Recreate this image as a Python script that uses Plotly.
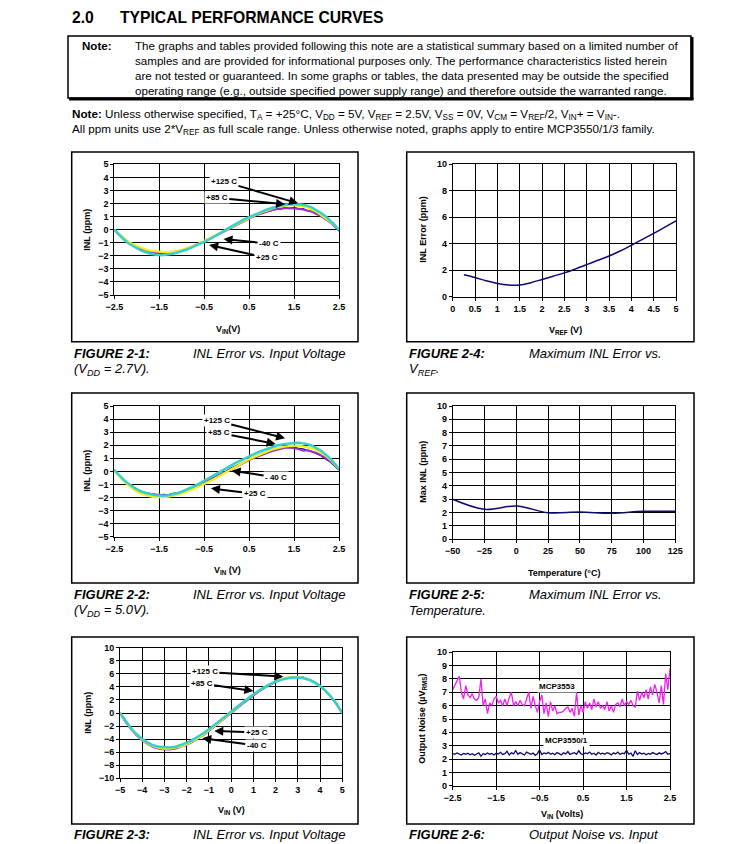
import plotly.graph_objects as go

W, H = 751, 844
def px(x): return x / W
def py(y): return 1 - y / H

FONTW = "Liberation Sans, Arial, sans-serif"

# ---------------- data ----------------
vin_fine = [round(-2.5 + 0.1 * i, 2) for i in range(51)]
vin_wide = [round(-5 + 0.25 * i, 2) for i in range(41)]
vin_noise = [round(-2.5 + 0.05 * i, 2) for i in range(101)]

# Figure 2-1 (VDD = 2.7V)
f1_cyan = [0.02, -0.38, -0.72, -1.00, -1.24, -1.42, -1.60, -1.74, -1.84, -1.90,
           -1.95, -1.93, -1.90, -1.84, -1.76, -1.66, -1.54, -1.40, -1.26, -1.10,
           -0.94, -0.76, -0.58, -0.38, -0.18, 0.04, 0.24, 0.42, 0.62, 0.80,
           0.96, 1.12, 1.27, 1.42, 1.55, 1.66, 1.76, 1.84, 1.90, 1.94,
           1.96, 1.95, 1.90, 1.82, 1.68, 1.50, 1.28, 1.02, 0.72, 0.38, -0.05]
f1_yellow = [0.00, -0.30, -0.62, -0.90, -1.10, -1.26, -1.42, -1.52, -1.60, -1.65,
             -1.70, -1.72, -1.72, -1.70, -1.64, -1.56, -1.46, -1.34, -1.20, -1.04,
             -0.86, -0.70, -0.52, -0.34, -0.16, 0.02, 0.20, 0.38, 0.56, 0.74,
             0.90, 1.06, 1.22, 1.36, 1.50, 1.62, 1.72, 1.80, 1.85, 1.88,
             1.88, 1.85, 1.78, 1.68, 1.54, 1.36, 1.14, 0.90, 0.62, 0.32, 0.00]
f1_purple = [0.00, -0.34, -0.66, -0.94, -1.18, -1.36, -1.52, -1.62, -1.70, -1.74,
             -1.76, -1.77, -1.75, -1.72, -1.66, -1.58, -1.48, -1.35, -1.22, -1.07,
             -0.91, -0.74, -0.56, -0.38, -0.20, -0.01, 0.17, 0.35, 0.53, 0.70,
             0.86, 1.01, 1.15, 1.28, 1.40, 1.49, 1.56, 1.61, 1.63, 1.64,
             1.63, 1.60, 1.54, 1.46, 1.36, 1.22, 1.04, 0.82, 0.56, 0.28, -0.05]
f1_navy = [0.00, -0.38, -0.64, -0.98, -1.14, -1.40, -1.50, -1.68, -1.70, -1.80,
           -1.76, -1.84, -1.74, -1.76, -1.64, -1.62, -1.44, -1.38, -1.18, -1.10,
           -0.88, -0.76, -0.52, -0.40, -0.16, -0.02, 0.20, 0.34, 0.58, 0.70,
           0.90, 1.00, 1.20, 1.26, 1.44, 1.46, 1.60, 1.58, 1.68, 1.62,
           1.70, 1.58, 1.60, 1.44, 1.40, 1.18, 1.08, 0.78, 0.62, 0.26, -0.10]

# Figure 2-2 (VDD = 5.0V)
f2_cyan = [0.10, -0.28, -0.62, -0.92, -1.16, -1.38, -1.54, -1.66, -1.76, -1.82,
           -1.85, -1.86, -1.82, -1.76, -1.68, -1.56, -1.42, -1.28, -1.10, -0.92,
           -0.74, -0.54, -0.34, -0.14, 0.06, 0.28, 0.46, 0.64, 0.82, 0.98,
           1.14, 1.30, 1.46, 1.60, 1.74, 1.86, 1.96, 2.04, 2.10, 2.14,
           2.16, 2.18, 2.14, 2.08, 1.96, 1.80, 1.58, 1.30, 1.00, 0.62, 0.20]
f2_yellow = [0.05, -0.36, -0.72, -1.04, -1.32, -1.54, -1.72, -1.84, -1.92, -1.98,
             -2.00, -1.98, -1.94, -1.88, -1.80, -1.70, -1.58, -1.44, -1.30, -1.14,
             -0.98, -0.80, -0.62, -0.42, -0.22, -0.02, 0.18, 0.38, 0.56, 0.74,
             0.92, 1.08, 1.24, 1.40, 1.54, 1.66, 1.76, 1.84, 1.90, 1.94,
             1.96, 1.95, 1.92, 1.86, 1.76, 1.62, 1.44, 1.20, 0.92, 0.58, 0.18]
f2_purple = [0.08, -0.30, -0.66, -0.96, -1.22, -1.42, -1.56, -1.68, -1.72, -1.80,
             -1.78, -1.84, -1.80, -1.74, -1.70, -1.60, -1.50, -1.36, -1.22, -1.06,
             -0.90, -0.72, -0.54, -0.36, -0.16, 0.02, 0.20, 0.38, 0.56, 0.72,
             0.86, 1.02, 1.16, 1.30, 1.42, 1.54, 1.64, 1.72, 1.80, 1.82,
             1.78, 1.70, 1.58, 1.62, 1.50, 1.40, 1.24, 1.04, 0.80, 0.50, 0.15]
f2_navy = [0.12, -0.30, -0.60, -0.94, -1.18, -1.36, -1.54, -1.64, -1.74, -1.76,
           -1.82, -1.78, -1.80, -1.70, -1.68, -1.56, -1.46, -1.36, -1.18, -1.04,
           -0.86, -0.70, -0.50, -0.34, -0.12, 0.04, 0.24, 0.40, 0.60, 0.74,
           0.92, 1.04, 1.22, 1.32, 1.48, 1.56, 1.70, 1.74, 1.84, 1.82,
           1.86, 1.74, 1.72, 1.60, 1.52, 1.36, 1.20, 0.96, 0.74, 0.44, 0.10]

# Figure 2-3 (+/-5V input)
f3_cyan = [0.02, -1.26, -2.36, -3.26, -3.98, -4.54, -4.94, -5.18, -5.28, -5.28,
           -5.16, -4.92, -4.58, -4.16, -3.66, -3.10, -2.50, -1.86, -1.18, -0.48,
           0.22, 0.90, 1.58, 2.24, 2.86, 3.44, 3.96, 4.42, 4.80, 5.10,
           5.30, 5.42, 5.44, 5.32, 5.08, 4.68, 4.12, 3.38, 2.46, 1.34, 0.00]
f3_yellow = [0.00, -1.32, -2.44, -3.38, -4.12, -4.68, -5.08, -5.34, -5.46, -5.46,
             -5.34, -5.12, -4.80, -4.38, -3.88, -3.32, -2.70, -2.02, -1.32, -0.60,
             0.12, 0.82, 1.52, 2.20, 2.84, 3.44, 3.98, 4.46, 4.86, 5.18,
             5.40, 5.52, 5.52, 5.40, 5.12, 4.70, 4.12, 3.38, 2.46, 1.34, 0.00]
f3_purple = [0.00, -1.36, -2.50, -3.44, -4.20, -4.78, -5.20, -5.46, -5.58, -5.58,
             -5.44, -5.20, -4.86, -4.44, -3.94, -3.38, -2.76, -2.10, -1.42, -0.72,
             -0.02, 0.68, 1.38, 2.06, 2.70, 3.32, 3.86, 4.36, 4.78, 5.12,
             5.36, 5.48, 5.50, 5.40, 5.14, 4.72, 4.14, 3.40, 2.48, 1.36, 0.00]
f3_navy = [0.00, -1.34, -2.46, -3.40, -4.14, -4.72, -5.14, -5.40, -5.52, -5.52,
           -5.40, -5.16, -4.84, -4.42, -3.92, -3.36, -2.74, -2.08, -1.40, -0.70,
           0.00, 0.70, 1.40, 2.08, 2.72, 3.32, 3.88, 4.36, 4.78, 5.12,
           5.36, 5.50, 5.52, 5.42, 5.14, 4.72, 4.14, 3.38, 2.44, 1.30, -0.04]

# Figure 2-4: max INL vs VREF
vref = [0.25, 0.5, 0.75, 1.0, 1.25, 1.5, 1.75, 2.0, 2.25, 2.5,
        2.75, 3.0, 3.25, 3.5, 3.75, 4.0, 4.25, 4.5, 4.75, 5.0]
inl_vref = [1.66, 1.45, 1.20, 1.00, 0.88, 0.88, 1.06, 1.30, 1.55, 1.80,
            2.10, 2.42, 2.75, 3.07, 3.45, 3.88, 4.33, 4.78, 5.25, 5.72]

# Figure 2-5: max INL vs temperature
temp = [-50, -25, 0, 25, 50, 75, 100, 125]
inl_temp = [3.0, 2.25, 2.5, 2.0, 2.05, 1.95, 2.1, 2.1]

# Figure 2-6: output noise vs input
noise_3553 = [7.20, 7.50, 7.80, 8.20, 7.00, 6.50, 7.50, 6.80, 6.60, 6.90,
              6.50, 6.40, 6.60, 8.00, 6.00, 6.50, 5.40, 6.20, 6.00, 6.50,
              6.70, 6.20, 6.40, 6.00, 6.50, 6.00, 6.60, 7.00, 6.00, 6.30,
              6.00, 6.40, 6.10, 6.00, 6.50, 7.00, 5.80, 6.70, 6.00, 5.50,
              6.30, 6.80, 5.40, 6.20, 5.20, 6.30, 5.60, 6.00, 5.40, 5.50,
              5.50, 5.60, 5.80, 5.90, 5.50, 5.80, 5.20, 7.00, 5.30, 6.00,
              5.50, 6.30, 5.80, 6.20, 5.70, 6.50, 5.90, 6.30, 5.80, 6.00,
              5.70, 6.30, 5.60, 6.00, 5.50, 6.10, 6.20, 5.90, 6.50, 6.00,
              6.30, 6.10, 6.40, 6.00, 5.90, 7.10, 6.40, 7.00, 6.60, 7.20,
              6.50, 7.40, 6.80, 7.60, 7.00, 6.20, 7.50, 6.10, 8.40, 7.20, 8.80]
noise_3550 = [2.40, 2.35, 2.45, 2.38, 2.30, 2.42, 2.36, 2.44, 2.32, 2.40,
              2.28, 2.38, 2.46, 2.22, 2.40, 2.34, 2.45, 2.36, 2.42, 2.30,
              2.44, 2.38, 2.50, 2.34, 2.40, 2.58, 2.30, 2.46, 2.38, 2.62,
              2.36, 2.48, 2.40, 2.30, 2.52, 2.42, 2.36, 2.44, 2.28, 2.40,
              2.68, 2.34, 2.46, 2.40, 2.50, 2.36, 2.44, 2.32, 2.48, 2.40,
              2.30, 2.46, 2.38, 2.56, 2.34, 2.42, 2.48, 2.36, 2.62, 2.40,
              2.32, 2.46, 2.40, 2.52, 2.36, 2.44, 2.30, 2.50, 2.38, 2.44,
              2.36, 2.48, 2.42, 2.30, 2.46, 2.38, 2.52, 2.34, 2.44, 2.40,
              2.66, 2.36, 2.44, 2.20, 2.62, 2.34, 2.48, 2.38, 2.44, 2.32,
              2.42, 2.36, 2.48, 2.40, 2.34, 2.46, 2.38, 2.44, 2.56, 2.36, 2.40]

# tick labels
vin_ticks = [-2.5, -1.5, -0.5, 0.5, 1.5, 2.5]
inl5_ticks = list(range(-5, 6))
vin10_ticks = list(range(-5, 6))
inl10_ticks = list(range(-10, 11, 2))
vref_ticks = [0, 0.5, 1, 1.5, 2, 2.5, 3, 3.5, 4, 4.5, 5]
vref_text = ["0", "0.5", "1", "1.5", "2", "2.5", "3", "3.5", "4", "4.5", "5"]
even10_ticks = list(range(0, 11, 2))
one10_ticks = list(range(0, 11))
temp_ticks = [-50, -25, 0, 25, 50, 75, 100, 125]

C_NAVY = "#0b0b70"
C_PURPLE = "#9b30d0"
C_YELLOW = "#f2f20a"
C_CYAN = "#33d0d0"
C_MAG = "#f020f0"

fig = go.Figure()

def add_family(xs, series, xa, ya):
    cols = [C_NAVY, C_PURPLE, C_YELLOW, C_CYAN]
    widths = [1.5, 2, 2.2, 2.5]
    for s, c, w in zip(series, cols, widths):
        fig.add_trace(go.Scatter(x=xs, y=s, mode="lines", line=dict(color=c, width=w),
                                 xaxis=xa, yaxis=ya, showlegend=False, hoverinfo="skip"))

add_family(vin_fine, [f1_navy, f1_purple, f1_yellow, f1_cyan], "x", "y")
add_family(vin_fine, [f2_navy, f2_purple, f2_yellow, f2_cyan], "x2", "y2")
add_family(vin_wide, [f3_navy, f3_purple, f3_yellow, f3_cyan], "x3", "y3")
fig.add_trace(go.Scatter(x=vref, y=inl_vref, mode="lines", line=dict(color=C_NAVY, width=1.5, shape="spline"),
                         xaxis="x4", yaxis="y4", showlegend=False))
fig.add_trace(go.Scatter(x=temp, y=inl_temp, mode="lines", line=dict(color=C_NAVY, width=1.5, shape="spline"),
                         xaxis="x5", yaxis="y5", showlegend=False))
fig.add_trace(go.Scatter(x=vin_noise, y=noise_3553, mode="lines", line=dict(color=C_MAG, width=1.3),
                         xaxis="x6", yaxis="y6", showlegend=False))
fig.add_trace(go.Scatter(x=vin_noise, y=noise_3550, mode="lines", line=dict(color=C_NAVY, width=1.3),
                         xaxis="x6", yaxis="y6", showlegend=False))

def axis(d0, d1, rng, tickvals, anchor, ticktext=None):
    d = dict(domain=[d0, d1], range=rng, tickmode="array", tickvals=tickvals,
             showgrid=True, gridcolor="black", gridwidth=1, zeroline=False,
             showline=True, mirror=True, linecolor="black", linewidth=1,
             ticks="outside", ticklen=3, tickcolor="black",
             tickfont=dict(family=FONTW, size=9, color="black", weight="bold"),
             anchor=anchor, fixedrange=True, automargin=False)
    if ticktext is not None:
        d["ticktext"] = ticktext
    return d

# plot areas in page pixels: (left, right, top, bottom)
dom = {
    1: (114.3, 339, 164.3, 295),
    2: (114.3, 339, 406, 536.7),
    3: (120, 342.3, 647.7, 778.3),
    4: (452.7, 676, 164.3, 296.7),
    5: (452.7, 675.3, 406, 539.3),
    6: (452.7, 670, 652.3, 785.7),
}
xr = {1: [-2.5, 2.5], 2: [-2.5, 2.5], 3: [-5, 5], 4: [0, 5], 5: [-50, 125], 6: [-2.5, 2.5]}
yr = {1: [-5, 5], 2: [-5, 5], 3: [-10, 10], 4: [0, 10], 5: [0, 10], 6: [0, 10]}
xt = {1: vin_ticks, 2: vin_ticks, 3: vin10_ticks, 4: vref_ticks, 5: temp_ticks, 6: vin_ticks}
yt = {1: inl5_ticks, 2: inl5_ticks, 3: inl10_ticks, 4: even10_ticks, 5: one10_ticks, 6: one10_ticks}

lay = {}
for i in range(1, 7):
    l, r, t, b = dom[i]
    sx = "" if i == 1 else str(i)
    lay["xaxis" + sx] = axis(px(l), px(r), xr[i], xt[i], "y" + sx, ticktext=vref_text if i == 4 else None)
    lay["yaxis" + sx] = axis(py(b), py(t), yr[i], yt[i], "x" + sx)
fig.update_layout(**lay)

ann = []
shapes = []

def text(x, y, s, size=12, bold=False, italic=False, anchor="left", angle=0, family=FONTW):
    f = dict(family=family, size=size, color="black")
    if bold:
        f["weight"] = "bold"
    if italic:
        f["style"] = "italic"
    ann.append(dict(xref="paper", yref="paper", x=px(x), y=py(y), text=s, showarrow=False,
                    xanchor=anchor, yanchor="middle", font=f, textangle=angle))

def line(x0, y0, x1, y1, w):
    shapes.append(dict(type="line", xref="paper", yref="paper", x0=px(x0), x1=px(x1), y0=py(y0), y1=py(y1),
                       line=dict(color="black", width=w)))

# Header
text(70, 17, "2.0", 15.7, bold=True)
text(118, 17, "TYPICAL PERFORMANCE CURVES", 15.7, bold=True)
# Note box
shapes.append(dict(type="rect", xref="paper", yref="paper", x0=px(68), x1=px(691), y0=py(98), y1=py(36),
                   line=dict(color="black", width=1.5)))
line(692, 37, 692, 99.5, 3)
line(69, 99, 693.5, 99, 3)
text(80, 45, "Note:", 11.6, bold=True)
note_lines = [
    "The graphs and tables provided following this note are a statistical summary based on a limited number of",
    "samples and are provided for informational purposes only. The performance characteristics listed herein",
    "are not tested or guaranteed. In some graphs or tables, the data presented may be outside the specified",
    "operating range (e.g., outside specified power supply range) and therefore outside the warranted range.",
]
for k, s in enumerate(note_lines):
    text(133, 45 + 15.2 * k, s, 11.6)
text(70, 115, "<b>Note:</b> Unless otherwise specified, T<sub>A</sub> = +25°C, V<sub>DD</sub> = 5V, V<sub>REF</sub> = 2.5V, "
     "V<sub>SS</sub> = 0V, V<sub>CM</sub> = V<sub>REF</sub>/2, V<sub>IN</sub>+ = V<sub>IN</sub>-.", 11.7)
text(70, 129, "All ppm units use 2*V<sub>REF</sub> as full scale range. Unless otherwise noted, graphs apply to entire MCP3550/1/3 family.",
     11.7)

# Panel boxes
boxes = [(71.7, 358, 152, 341.7), (406.7, 694, 152, 341.7),
         (71.7, 358, 393, 583), (406.7, 694, 393, 583),
         (71.7, 358, 637, 824), (406.7, 694, 637, 824)]
for l, r, t, b in boxes:
    shapes.append(dict(type="rect", xref="paper", yref="paper", x0=px(l), x1=px(r), y0=py(b), y1=py(t),
                       line=dict(color="black", width=1.5)))

# Axis titles
AT = 9
text(227.7, 329, "V<sub>IN</sub>(V)", AT, bold=True, anchor="center")
text(86.7, 230, "INL (ppm)", AT, bold=True, anchor="center", angle=-90)
text(565, 330, "V<sub>REF</sub> (V)", AT, bold=True, anchor="center")
text(422.7, 230, "INL Error (ppm)", AT, bold=True, anchor="center", angle=-90)
text(227.7, 570, "V<sub>IN</sub> (V)", AT, bold=True, anchor="center")
text(86.7, 471, "INL (ppm)", AT, bold=True, anchor="center", angle=-90)
text(564, 572.7, "Temperature (°C)", AT, bold=True, anchor="center")
text(422.7, 472, "Max INL (ppm)", AT, bold=True, anchor="center", angle=-90)
text(231, 810, "V<sub>IN</sub> (V)", AT, bold=True, anchor="center")
text(87.7, 713, "INL (ppm)", AT, bold=True, anchor="center", angle=-90)
text(561.7, 814.3, "V<sub>IN</sub> (Volts)", AT, bold=True, anchor="center")
text(421.7, 719, "Output Noise (µV<sub>RMS</sub>)", AT, bold=True, anchor="center", angle=-90)

# Captions
CS = 13
text(72, 353, "FIGURE 2-1:", CS, bold=True, italic=True)
text(191, 353, "INL Error vs. Input Voltage", CS, italic=True)
text(72, 369, "(V<sub>DD</sub> = 2.7V).", CS, italic=True)
text(407, 353, "FIGURE 2-4:", CS, bold=True, italic=True)
text(527, 353, "Maximum INL Error vs.", CS, italic=True)
text(407, 369, "V<sub>REF</sub>.", CS, italic=True)
text(72, 594, "FIGURE 2-2:", CS, bold=True, italic=True)
text(191, 594, "INL Error vs. Input Voltage", CS, italic=True)
text(72, 610, "(V<sub>DD</sub> = 5.0V).", CS, italic=True)
text(407, 594, "FIGURE 2-5:", CS, bold=True, italic=True)
text(527, 594, "Maximum INL Error vs.", CS, italic=True)
text(407, 610, "Temperature.", CS, italic=True)
text(72, 834, "FIGURE 2-3:", CS, bold=True, italic=True)
text(191, 834, "INL Error vs. Input Voltage", CS, italic=True)
text(407, 834, "FIGURE 2-6:", CS, bold=True, italic=True)
text(527, 834, "Output Noise vs. Input", CS, italic=True)

# In-plot labels with arrows (text position, arrow head position)
def arrow(sx, label, tx, ty, hx, hy):
    ann.append(dict(xref="x" + sx, yref="y" + sx, axref="x" + sx, ayref="y" + sx,
                    x=hx, y=hy, ax=tx, ay=ty, text=label, showarrow=True,
                    arrowhead=2, arrowsize=0.9, arrowwidth=2, arrowcolor="black",
                    bgcolor="white", borderpad=1,
                    font=dict(family=FONTW, size=8, color="black", weight="bold")))

arrow("", "+125 C", -0.06, 3.67, 1.59, 2.02)
arrow("", "+85 C", -0.22, 2.44, 1.30, 1.94)
arrow("", "-40 C", 0.94, -1.07, -0.07, -0.72)
arrow("", "+25 C", 0.89, -2.15, -0.39, -1.17)

arrow("2", "+125 C", -0.22, 3.87, 1.30, 2.53)
arrow("2", "+85 C", -0.17, 2.96, 1.09, 2.09)
arrow("2", "- 40 C", 1.10, -0.45, 0.11, 0.05)
arrow("2", "+25 C", 0.62, -1.73, -0.35, -1.30)

arrow("3", "+125 C", -1.18, 6.32, 2.35, 5.56)
arrow("3", "+85 C", -1.33, 4.55, 1.0, 3.37)
arrow("3", "+25 C", 1.15, -2.96, -0.76, -2.76)
arrow("3", "-40 C", 1.15, -5.0, -1.30, -3.87)

for lab, x, y in [("MCP3553", -0.11, 7.47), ("MCP3550/1", 0.12, 3.40)]:
    ann.append(dict(xref="x6", yref="y6", x=x, y=y, text=lab, showarrow=False, bgcolor="white",
                    font=dict(family=FONTW, size=8, color="black", weight="bold")))

fig.update_layout(width=W, height=H, margin=dict(l=0, r=0, t=0, b=0),
                  paper_bgcolor="white", plot_bgcolor="white",
                  annotations=ann, shapes=shapes, showlegend=False)

fig.write_html("out.html", config={"displayModeBar": False},
               post_script="document.body.style.margin='0px';document.body.style.overflow='hidden';")
